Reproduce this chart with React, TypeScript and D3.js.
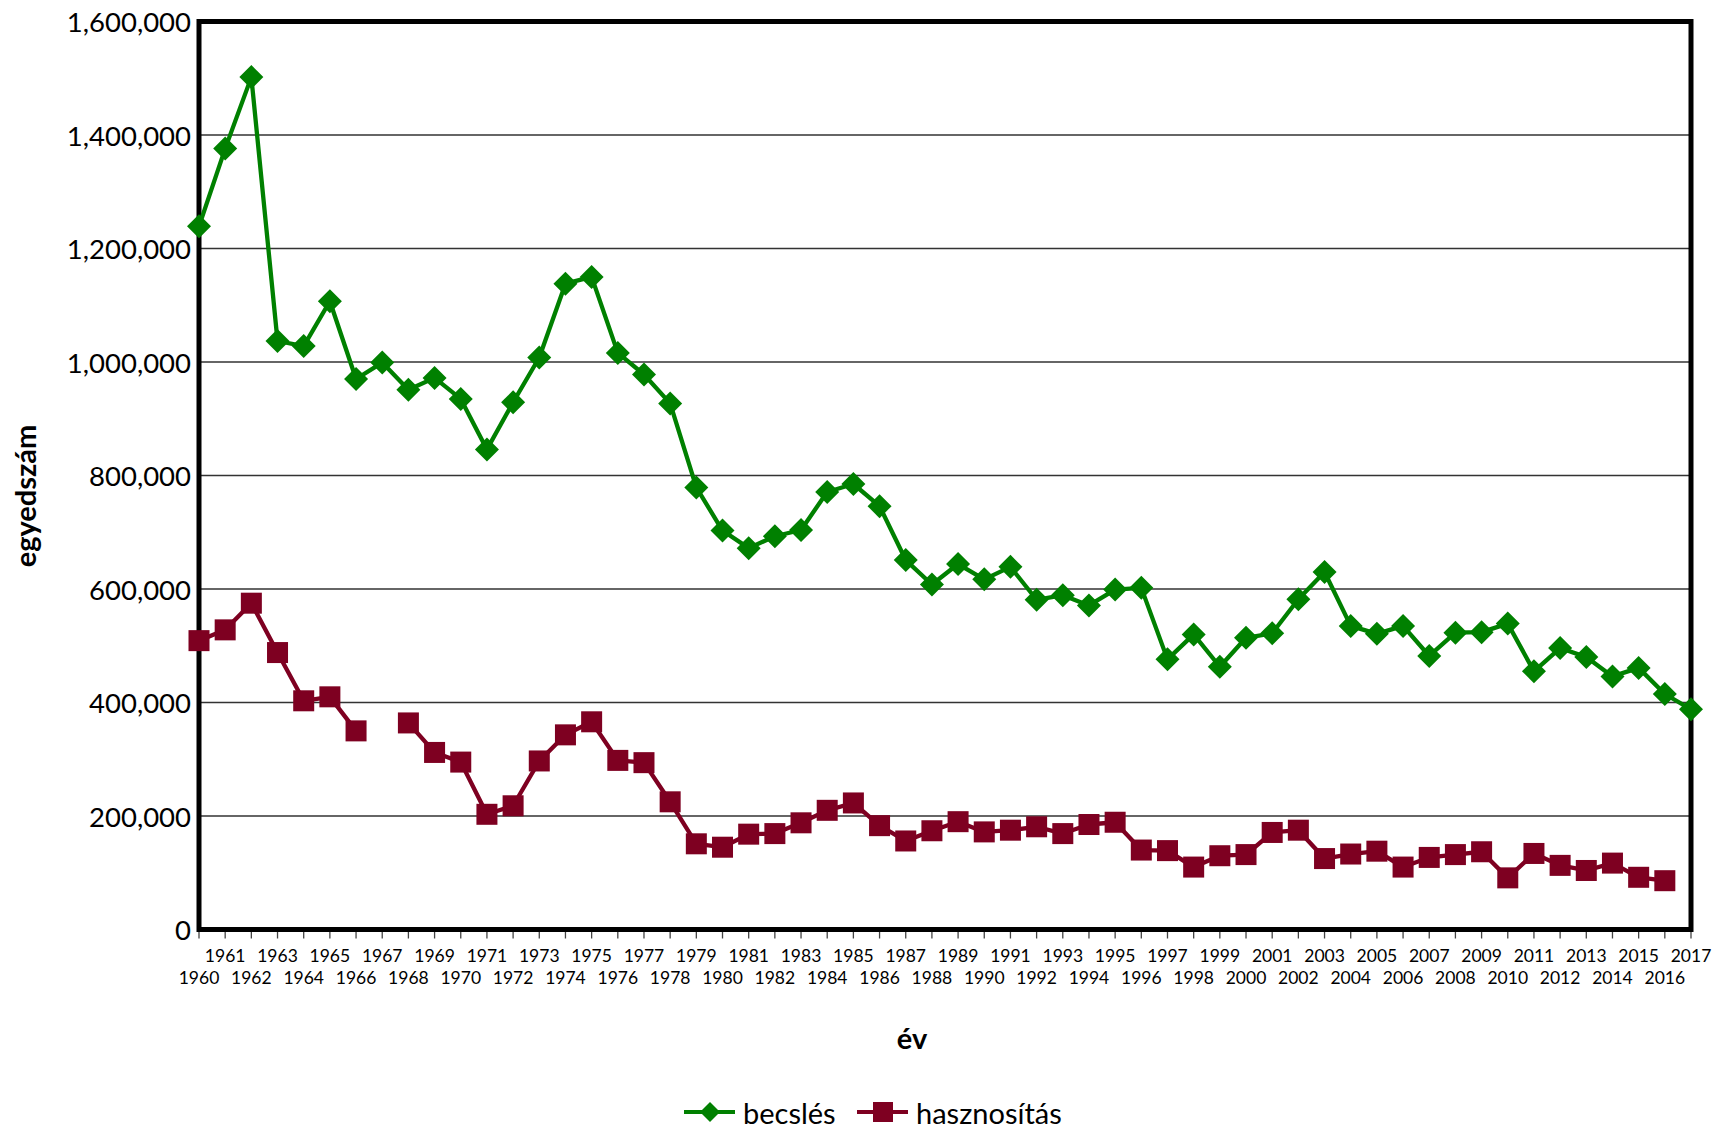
import React from "react";
import * as d3 from "d3";

const years: number[] = d3.range(1960, 2018);

const becsles: (number | null)[] = [
  1239000, 1376000, 1502000, 1037000, 1028000, 1107000, 970000, 999000, 951000, 972000,
  935000, 846000, 929000, 1008000, 1138000, 1150000, 1016000, 978000, 927000, 779000,
  703000, 672000, 693000, 704000, 771000, 785000, 746000, 651000, 608000, 644000,
  617000, 639000, 581000, 589000, 571000, 599000, 602000, 476000, 520000, 463000,
  514000, 522000, 582000, 630000, 535000, 521000, 535000, 482000, 523000, 524000,
  539000, 455000, 496000, 480000, 446000, 461000, 415000, 388000,
];

const hasznositas: (number | null)[] = [
  509000, 528000, 575000, 488000, 403000, 410000, 350000, null, 364000, 312000,
  295000, 203000, 218000, 297000, 343000, 366000, 298000, 294000, 225000, 151000,
  145000, 168000, 169000, 188000, 210000, 223000, 183000, 156000, 174000, 190000,
  172000, 175000, 181000, 169000, 185000, 189000, 140000, 139000, 110000, 130000,
  132000, 171000, 175000, 125000, 133000, 138000, 110000, 127000, 132000, 137000,
  91000, 134000, 113000, 104000, 117000, 92000, 86000, null,
];

const yTicks: number[] = [0, 200000, 400000, 600000, 800000, 1000000, 1200000, 1400000, 1600000];

const seriesNames = ["becslés", "hasznosítás"];
const GREEN = "#008000";
const RED = "#7e0021";

export default function App() {
  const W = 1719;
  const H = 1130;
  const left = 199;
  const right = 1691;
  const top = 21.5;
  const bottom = 929.5;

  const x = d3.scalePoint<number>().domain(years).range([left, right]);
  const y = d3.scaleLinear().domain([0, 1600000]).range([bottom, top]);
  const fmt = d3.format(",");

  const line = d3
    .line<number | null>()
    .defined((d) => d !== null)
    .x((_, i) => x(years[i]) as number)
    .y((d) => y(d as number));

  const font = "Lato, 'Carlito', 'DejaVu Sans', sans-serif";
  const diamond = (cx: number, cy: number, r: number) =>
    `M${cx},${cy - r}L${cx + r},${cy}L${cx},${cy + r}L${cx - r},${cy}Z`;
  const sq = 21;

  return (
    <svg
      width={W}
      height={H}
      style={{ position: "absolute", left: 0, top: 0, background: "#fff" }}
      fontFamily={font}
    >
      <rect x={0} y={0} width={W} height={H} fill="#fff" />
      {/* gridlines */}
      {yTicks.slice(1, -1).map((t) => (
        <line key={t} x1={left} x2={right} y1={y(t)} y2={y(t)} stroke="#333" strokeWidth={1.3} />
      ))}
      {/* y labels */}
      {yTicks.map((t) => (
        <text key={t} x={191} y={y(t)} textAnchor="end" dominantBaseline="central" fontSize={27.5} fill="#000">
          {fmt(t)}
        </text>
      ))}
      {/* x ticks */}
      {years.map((yr) => (
        <line key={yr} x1={x(yr)} x2={x(yr)} y1={bottom} y2={bottom + 9} stroke="#444" strokeWidth={1.3} />
      ))}
      {years.map((yr, i) => (
        <text
          key={yr}
          x={x(yr)}
          y={i % 2 === 1 ? 955 : 977}
          textAnchor="middle"
          dominantBaseline="central"
          fontSize={17.5}
          fill="#000"
        >
          {yr}
        </text>
      ))}
      {/* frame */}
      <rect x={left} y={top} width={right - left} height={bottom - top} fill="none" stroke="#000" strokeWidth={5} />
      {/* lines */}
      <path d={line(hasznositas) || ""} fill="none" stroke={RED} strokeWidth={4.3} strokeLinejoin="round" />
      <path d={line(becsles) || ""} fill="none" stroke={GREEN} strokeWidth={4.3} strokeLinejoin="round" />
      {hasznositas.map((v, i) =>
        v === null ? null : (
          <rect key={i} x={(x(years[i]) as number) - sq / 2} y={y(v) - sq / 2} width={sq} height={sq} fill={RED} />
        )
      )}
      {becsles.map((v, i) =>
        v === null ? null : <path key={i} d={diamond(x(years[i]) as number, y(v), 12)} fill={GREEN} />
      )}
      {/* axis titles */}
      <text
        transform={`translate(24,496) rotate(-90)`}
        textAnchor="middle"
        dominantBaseline="central"
        fontSize={29}
        fontWeight="bold"
      >
        egyedszám
      </text>
      <text x={912} y={1037} textAnchor="middle" dominantBaseline="central" fontSize={29} fontWeight="bold">
        év
      </text>
      {/* legend */}
      <g>
        <line x1={684} x2={735} y1={1112} y2={1112} stroke={GREEN} strokeWidth={4} />
        <path d={diamond(710, 1112, 10)} fill={GREEN} />
        <text x={743} y={1112} dominantBaseline="central" fontSize={29}>
          {seriesNames[0]}
        </text>
        <line x1={857} x2={908} y1={1112} y2={1112} stroke={RED} strokeWidth={4} />
        <rect x={883 - 10} y={1112 - 10} width={20} height={20} fill={RED} />
        <text x={916} y={1112} dominantBaseline="central" fontSize={29}>
          {seriesNames[1]}
        </text>
      </g>
    </svg>
  );
}
